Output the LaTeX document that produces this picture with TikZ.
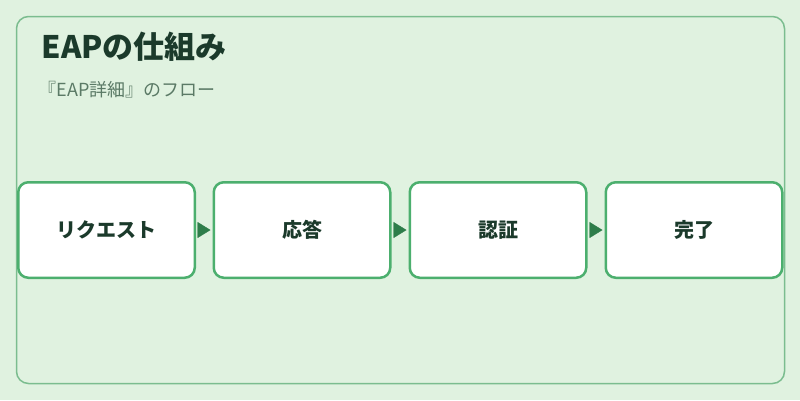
\documentclass[tikz,border=0pt]{standalone}
\usepackage{fontspec}
\setmainfont{Noto Sans CJK JP}
\usetikzlibrary{arrows.meta}
\definecolor{bgpanel}{HTML}{E0F2E0}
\definecolor{frameline}{HTML}{7BBD8F}
\definecolor{boxline}{HTML}{4CAF6E}
\definecolor{arrowfill}{HTML}{2E7D4A}
\definecolor{titletext}{HTML}{1B3A2B}
\definecolor{subtext}{HTML}{5B7A66}
\tikzset{
  stepbox/.style={shape=rectangle, rounded corners=10pt, draw=boxline, line width=2.5pt,
    fill=white, minimum width=176.5pt, minimum height=95.5pt, inner sep=0pt,
    text=titletext, font=\fontsize{20}{24}\selectfont\bfseries},
  flowarrow/.style={color=arrowfill, -{Triangle[length=13pt,width=16pt]},
    shorten <=2pt, shorten >=2pt}
}
\begin{document}
\begin{tikzpicture}[x=1pt,y=-1pt]

                \fill[bgpanel] (0,0) rectangle (800,400);
                \useasboundingbox (0,0) rectangle (800,400);
                \draw[frameline, line width=1.5pt, rounded corners=12pt] (16.5,16.5) rectangle (784.5,383.5);

                \node[anchor=base west, text=titletext, font=\fontsize{31}{36}\selectfont\bfseries] (title) at (38,58) {EAPの仕組み};
                \node[anchor=base west, text=subtext, font=\fontsize{18}{22}\selectfont] (subtitle) at (35,96) {『EAP詳細』のフロー};

                \node[stepbox] (1) at (106.5,230) {リクエスト};
                \node[stepbox] (2) at (302,230) {応答};
                \node[stepbox] (3) at (498,230) {認証};
                \node[stepbox] (4) at (694,230) {完了};

                \draw[flowarrow] (1) edge (2);
                \draw[flowarrow] (2) edge (3);
                \draw[flowarrow] (3) edge (4);

            \end{tikzpicture}
\end{document}
